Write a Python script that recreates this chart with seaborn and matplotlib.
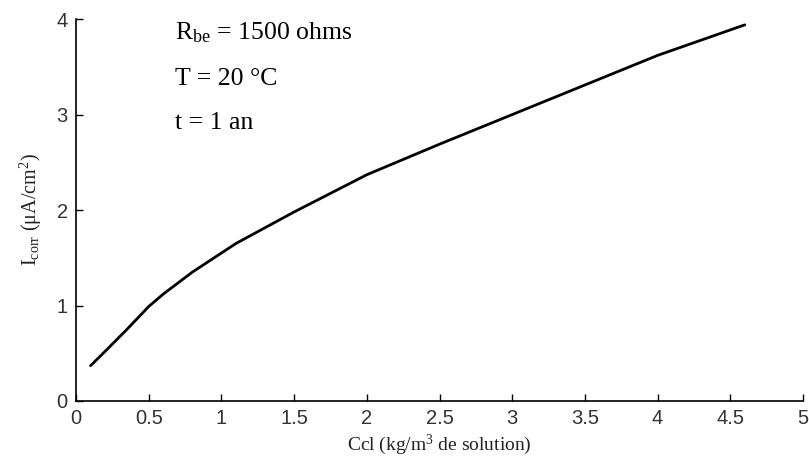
import matplotlib
matplotlib.use("Agg")
import matplotlib.pyplot as plt
import seaborn as sns
import pandas as pd

# Data
ccl = [0.1, 0.2, 0.35, 0.5, 0.6, 0.8, 1.1, 1.5, 2.0, 2.5, 3.0, 3.5, 4.0, 4.6]
icorr = [0.37, 0.52, 0.75, 0.99, 1.12, 1.35, 1.65, 1.98, 2.37, 2.69, 3.00, 3.31, 3.62, 3.94]
xticks = [0, 0.5, 1, 1.5, 2, 2.5, 3, 3.5, 4, 4.5, 5]
xticklabels = ["0", "0.5", "1", "1.5", "2", "2.5", "3", "3.5", "4", "4.5", "5"]
yticks = [0, 1, 2, 3, 4]
yticklabels = ["0", "1", "2", "3", "4"]
notes = [r"R$_{\mathrm{be}}$ = 1500 ohms", "T = 20 °C", "t = 1 an"]

sns.set_style("ticks")
plt.rcParams["font.family"] = ["Liberation Serif", "DejaVu Serif"]
plt.rcParams["mathtext.fontset"] = "custom"
plt.rcParams["mathtext.rm"] = "Liberation Serif"
plt.rcParams["mathtext.it"] = "Liberation Serif:italic"

df = pd.DataFrame({"Ccl": ccl, "Icorr": icorr})

fig = plt.figure(figsize=(8.09, 4.66), dpi=100)
ax = fig.add_axes([0.094, 0.1395, 0.8986, 0.8195])
sns.lineplot(data=df, x="Ccl", y="Icorr", ax=ax, color="black", linewidth=2.0)

ax.set_xlim(0, 5)
ax.set_ylim(0, 4)
ax.set_xticks(xticks)
ax.set_xticklabels(xticklabels, fontfamily="Liberation Sans")
ax.set_yticks(yticks)
ax.set_yticklabels(yticklabels, fontfamily="Liberation Sans")
ax.tick_params(direction="in", length=5, width=1, labelsize=14.5, colors="black",
               labelcolor="#333333", pad=6)
for s in ["top", "right"]:
    ax.spines[s].set_visible(False)
for s in ["left", "bottom"]:
    ax.spines[s].set_linewidth(1.2)
    ax.spines[s].set_color("black")

ax.set_xlabel(r"Ccl (kg/m$^{3}$ de solution)", fontsize=14, labelpad=3, color="#222222")
ax.set_ylabel(r"I$_{\mathrm{corr}}$ (μA/cm$^{2}$)", fontsize=14.5, labelpad=9, color="#222222")

for txt, yy in zip(notes, [3.79, 3.31, 2.85]):
    ax.text(0.68, yy, txt, fontsize=18.5, va="baseline", ha="left", color="black")

fig.savefig("out.png", dpi=100)
